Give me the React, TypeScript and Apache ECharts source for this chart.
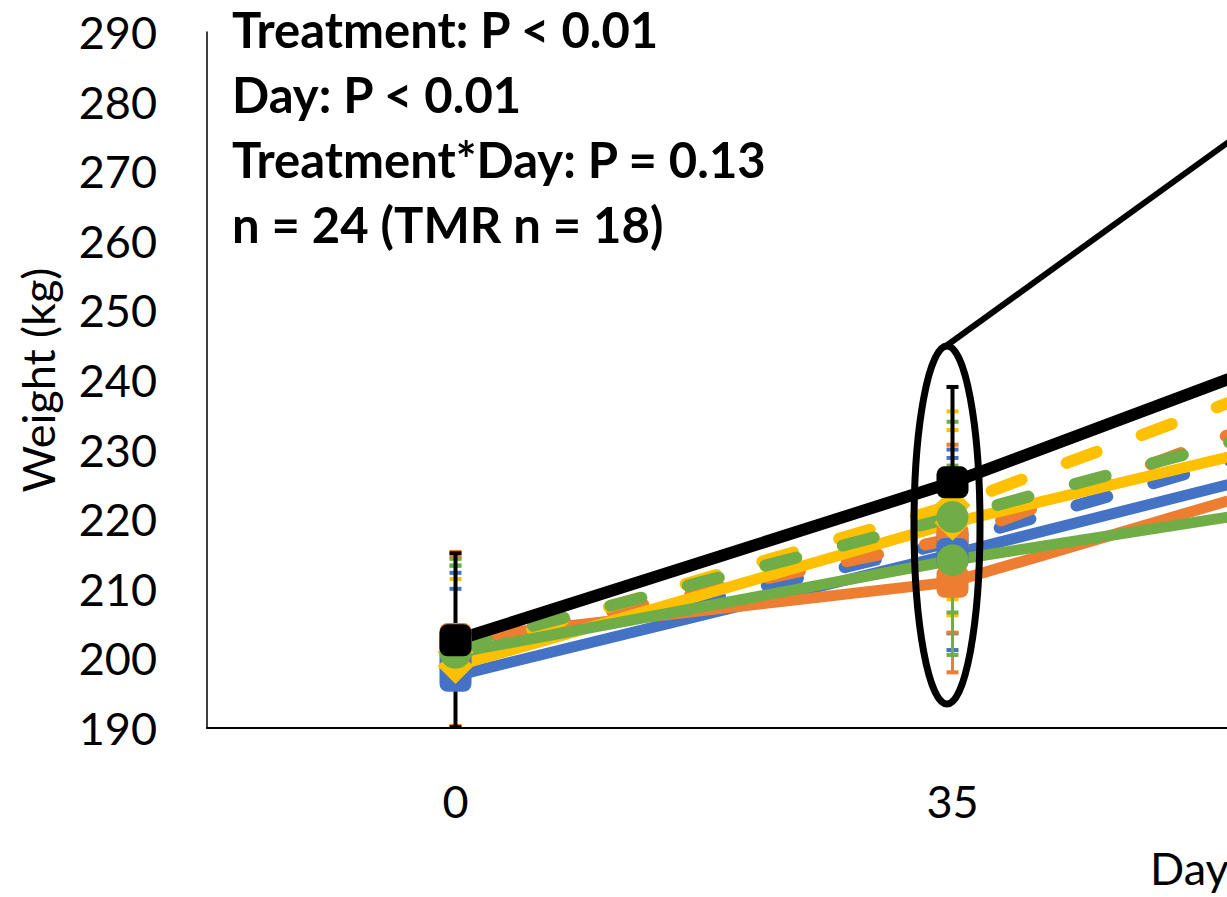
import React, { useEffect, useRef } from "react";
import * as echarts from "echarts";

const days = ["0", "35", "70"];
const yTicks = { min: 190, max: 290, step: 10 };

// mean body weight (kg)
const blueSolid = [197.5, 215.0, 233.0];
const blueDashed = [199.8, 216.8, 237.5];
const orangeSolid = [202.8, 211.0, 232.0];
const orangeDashed = [202.0, 217.2, 244.0];
const yellowSolid = [198.9, 219.5, 236.5];
const yellowDashed = [200.9, 222.0, 248.5];
const greenSolid = [200.8, 214.1, 225.3];
const greenDashed = [201.8, 220.3, 239.6];
const tmr = [202.6, 225.3, 252.0];

// standard errors
const blueSolidSE = [12.5, 13.8, 15];
const blueDashedSE = [12.5, 13.2, 15];
const orangeSolidSE = [12.5, 13.0, 15];
const orangeDashedSE = [12.5, 13.5, 15];
const yellowSolidSE = [12.5, 13.3, 15];
const yellowDashedSE = [12.5, 13.5, 15];
const greenSolidSE = [12.5, 13.6, 15];
const greenDashedSE = [12.5, 13.7, 15];
const tmrSE = [12.5, 13.7, 15];

const annotations = [
  "Treatment: P < 0.01",
  "Day: P < 0.01",
  "Treatment*Day: P = 0.13",
  "n = 24 (TMR n = 18)",
];

const BLUE = "#4472C4";
const ORANGE = "#ED7D31";
const YELLOW = "#FFC000";
const GREEN = "#70AD47";
const BLACK = "#000000";

type S = {
  name: string;
  values: number[];
  se: number[];
  color: string;
  dashed: boolean;
  symbol: string;
  width: number;
};

const seriesDefs: S[] = [
  { name: "Blue dashed", values: blueDashed, se: blueDashedSE, color: BLUE, dashed: true, symbol: "roundRect", width: 12 },
  { name: "Orange dashed", values: orangeDashed, se: orangeDashedSE, color: ORANGE, dashed: true, symbol: "roundRect", width: 12 },
  { name: "Blue", values: blueSolid, se: blueSolidSE, color: BLUE, dashed: false, symbol: "roundRect", width: 11 },
  { name: "Orange", values: orangeSolid, se: orangeSolidSE, color: ORANGE, dashed: false, symbol: "roundRect", width: 11 },
  { name: "Yellow", values: yellowSolid, se: yellowSolidSE, color: YELLOW, dashed: false, symbol: "diamond", width: 11 },
  { name: "Yellow dashed", values: yellowDashed, se: yellowDashedSE, color: YELLOW, dashed: true, symbol: "diamond", width: 12 },
  { name: "Green dashed", values: greenDashed, se: greenDashedSE, color: GREEN, dashed: true, symbol: "circle", width: 12 },
  { name: "Green", values: greenSolid, se: greenSolidSE, color: GREEN, dashed: false, symbol: "circle", width: 11 },
  { name: "TMR", values: tmr, se: tmrSE, color: BLACK, dashed: false, symbol: "roundRect", width: 12 },
];

const FONT = "Lato";

export default function App() {
  const ref = useRef<HTMLDivElement>(null);
  useEffect(() => {
    document.body.style.margin = "0";
    if (!ref.current) return;
    const chart = echarts.init(ref.current, undefined, { renderer: "svg" });

    const errorSeries = seriesDefs.map((s) => ({
      type: "custom",
      name: s.name + " SE",
      z: 1,
      clip: true,
      encode: { x: 0, y: [1, 2] },
      data: s.values.map((v, i) => [i, v - s.se[i], v + s.se[i]]),
      renderItem: (params: any, api: any) => {
        const idx = api.value(0);
        const lo = api.coord([idx, api.value(1)]);
        const hi = api.coord([idx, api.value(2)]);
        const hw = 6;
        const bw = s.color === BLACK ? 4 : 3;
        return {
          type: "group",
          children: [
            {
              type: "line",
              shape: { x1: hi[0], y1: hi[1], x2: lo[0], y2: lo[1] },
              style: { stroke: s.color, lineWidth: bw, lineDash: s.dashed ? [4, 4] : null },
            },
            {
              type: "line",
              shape: { x1: hi[0] - hw, y1: hi[1], x2: hi[0] + hw, y2: hi[1] },
              style: { stroke: s.color, lineWidth: 4 },
            },
            {
              type: "line",
              shape: { x1: lo[0] - hw, y1: lo[1], x2: lo[0] + hw, y2: lo[1] },
              style: { stroke: s.color, lineWidth: 4 },
            },
          ],
        };
      },
    }));

    const lineSeries = seriesDefs.map((s) => ({
      type: "line",
      name: s.name,
      z: 2,
      data: s.values,
      symbol: s.symbol,
      symbolSize: s.symbol === "diamond" ? 36 : 32,
      showSymbol: true,
      itemStyle: { color: s.color },
      lineStyle: {
        color: s.color,
        width: s.width,
        type: s.dashed ? [32, 48] : "solid",
        cap: s.dashed ? "round" : "butt",
        join: "round",
      },
    }));

    const textEls = annotations.map((t, i) => ({
      type: "text",
      left: 232,
      top: 4 + i * 65,
      z: 10,
      style: {
        text: t,
        font: `bold 49px ${FONT}`,
        fill: "#000",
      },
    }));

    chart.setOption({
      animation: false,
      backgroundColor: "#fff",
      grid: {
        left: 207,
        top: 32,
        width: 1491,
        height: 696,
        containLabel: false,
        outerBoundsMode: "none",
      },
      xAxis: {
        type: "category",
        data: days,
        boundaryGap: true,
        axisLine: { show: true, lineStyle: { color: "#000", width: 2 } },
        axisTick: { show: false },
        axisLabel: {
          fontFamily: FONT,
          fontSize: 45,
          color: "#000",
          margin: 50,
          interval: (i: number) => i < 2,
        },
        splitLine: { show: false },
      },
      yAxis: {
        type: "value",
        min: yTicks.min,
        max: yTicks.max,
        interval: yTicks.step,
        name: "Weight (kg)",
        nameLocation: "middle",
        nameGap: 147,
        nameTextStyle: { fontFamily: FONT, fontSize: 45, color: "#000" },
        axisLine: { show: true, lineStyle: { color: "#000", width: 1.5 } },
        axisTick: { show: false },
        axisLabel: { fontFamily: FONT, fontSize: 45, color: "#000", margin: 50 },
        splitLine: { show: false },
      },
      graphic: [
        ...textEls,
        {
          type: "text",
          left: 1150,
          top: 845,
          z: 10,
          style: { text: "Day", font: `45px ${FONT}`, fill: "#000" },
        },
        {
          type: "ellipse",
          z: 10,
          shape: { cx: 947, cy: 525, rx: 33, ry: 179 },
          style: { fill: "none", stroke: "#000", lineWidth: 7 },
        },
        {
          type: "line",
          z: 10,
          shape: { x1: 946, y1: 346, x2: 1320, y2: 76 },
          style: { stroke: "#000", lineWidth: 6 },
        },
      ],
      series: [...errorSeries, ...lineSeries],
    });

    return () => chart.dispose();
  }, []);

  return <div ref={ref} style={{ width: 1227, height: 897 }} />;
}
